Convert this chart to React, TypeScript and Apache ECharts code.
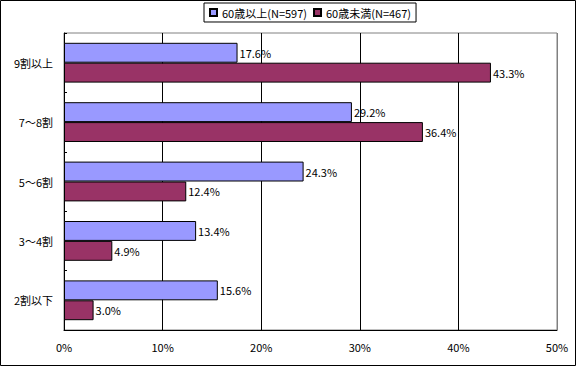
import React, { useEffect, useRef } from "react";
import * as echarts from "echarts";

const categories = ["9割以上", "7～8割", "5～6割", "3～4割", "2割以下"];
const seriesNames = ["60歳以上(N=597)", "60歳未満(N=467)"];
const over60 = [17.6, 29.2, 24.3, 13.4, 15.6];
const under60 = [43.3, 36.4, 12.4, 4.9, 3.0];
const xTicks = [0, 10, 20, 30, 40, 50];

const FONT = "'Noto Sans CJK JP', 'Noto Sans', sans-serif";

export default function App() {
  const ref = useRef<HTMLDivElement>(null);
  useEffect(() => {
    document.body.style.margin = "0";
    if (!ref.current) return;
    const chart = echarts.init(ref.current, undefined, { renderer: "svg" });
    const label = {
      show: true,
      position: "right" as const,
      distance: 2,
      color: "#000",
      fontSize: 11,
      fontFamily: FONT,
      formatter: (p: any) => Number(p.value).toFixed(1) + "%",
    };
    chart.setOption({
      animation: false,
      backgroundColor: "#fff",
      textStyle: { fontFamily: FONT },
      graphic: [
        {
          type: "rect",
          shape: { x: 0.5, y: 0.5, width: 575, height: 365 },
          style: { fill: "none", stroke: "#000", lineWidth: 1 },
          silent: true,
        },
      ],
      legend: {
        left: 204,
        top: 3,
        orient: "horizontal",
        itemWidth: 7,
        itemHeight: 7,
        itemGap: 6,
        padding: [4, 5],
        borderColor: "#000",
        borderWidth: 1,
        icon: "rect",
        textStyle: { fontSize: 11, color: "#000", fontFamily: FONT },
        data: seriesNames,
      },
      grid: {
        left: 64,
        right: 21,
        top: 33,
        bottom: 37,
        show: true,
        borderColor: "#808080",
        borderWidth: 1,
        backgroundColor: "#fff",
        containLabel: false,
      },
      xAxis: {
        type: "value",
        min: xTicks[0],
        max: xTicks[xTicks.length - 1],
        interval: 10,
        axisLine: { show: true, lineStyle: { color: "#000", width: 1 } },
        axisTick: { show: false },
        axisLabel: {
          formatter: "{value}%",
          color: "#000",
          fontSize: 11,
          margin: 11,
          fontFamily: FONT,
        },
        splitLine: {
          show: true,
          lineStyle: {
            color: ["#000", "#000", "#000", "#000", "#000", "#808080"],
            width: 1,
          },
        },
      },
      yAxis: {
        type: "category",
        inverse: true,
        data: categories,
        axisLine: { show: true, lineStyle: { color: "#000", width: 1 } },
        axisTick: { show: true, inside: true, length: 3, lineStyle: { color: "#000" } },
        axisLabel: { color: "#000", fontSize: 11, margin: 11, fontFamily: FONT },
        splitLine: { show: false },
      },
      series: [
        {
          name: seriesNames[0],
          type: "bar",
          data: over60,
          barGap: "0%",
          barCategoryGap: "33%",
          itemStyle: { color: "#9999FF", borderColor: "#000", borderWidth: 1 },
          label,
        },
        {
          name: seriesNames[1],
          type: "bar",
          data: under60,
          barGap: "0%",
          barCategoryGap: "33%",
          itemStyle: { color: "#993366", borderColor: "#000", borderWidth: 1 },
          label,
        },
      ],
    });
    return () => chart.dispose();
  }, []);
  return <div ref={ref} style={{ width: 578, height: 367 }} />;
}
